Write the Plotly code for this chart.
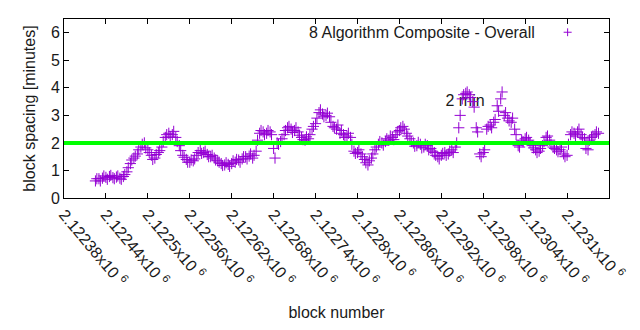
import plotly.graph_objects as go

# ---- data ----
block_start = 2122425
block_step = 5
# values on the blocks block_start + 5*i
spacing_min = [
    0.62, 0.70, 0.72, 0.75, 0.78, 0.74, 0.76, 0.72, 0.78, 0.95,
    1.25, 1.45, 1.60, 1.85, 2.00, 1.75, 1.55, 1.45, 1.65, 1.85,
    2.20, 2.35, 2.30, 2.20, 1.90, 1.55, 1.40, 1.30, 1.35, 1.55,
    1.72, 1.65, 1.58, 1.50, 1.45, 1.35, 1.25, 1.20, 1.22, 1.25,
    1.30, 1.38, 1.42, 1.50, 1.52, 1.45, 1.70, 2.35, 2.40, 2.35,
    2.40, 1.80, 2.00, 2.05, 2.30, 2.55, 2.50, 2.45, 2.40, 2.20,
    2.10, 2.15, 2.50, 2.70, 3.10, 3.05, 3.00, 2.95, 2.60, 2.50,
    2.35, 2.30, 2.25, 2.20, 1.70, 1.65, 1.60, 1.40, 1.20, 1.45,
    1.75, 1.95, 2.00, 2.05, 2.10, 2.20, 2.30, 2.45, 2.60, 2.35,
    2.15, 2.00, 1.90, 1.95, 1.85, 1.90, 1.80, 1.65, 1.50, 1.55,
    1.65, 1.60, 1.75, 1.85, 2.55, 3.60, 3.80, 3.75, 3.50, 2.55,
    1.60, 1.65, 2.50, 2.65, 2.75, 3.35, 3.60, 3.00, 2.90, 2.75,
    2.50, 1.90, 2.10, 2.15, 2.10, 1.90, 1.75, 1.70, 1.90, 2.20,
    2.10, 1.85, 1.75, 1.75, 1.60, 1.55, 2.30, 2.35, 2.40, 2.30,
    2.15, 1.75, 2.20, 2.30, 2.35,
]
# values on the in-between blocks block_start + 2 + 5*i
spacing_min_mid = [
    0.70, 0.62, 0.80, 0.68, 0.82, 0.70, 0.80, 0.68, 0.85, 1.10,
    1.38, 1.52, 1.75, 1.95, 1.82, 1.65, 1.40, 1.58, 1.72, 2.05,
    2.30, 2.22, 2.42, 2.05, 1.72, 1.48, 1.30, 1.38, 1.42, 1.65,
    1.62, 1.70, 1.50, 1.55, 1.38, 1.30, 1.18, 1.28, 1.15, 1.35,
    1.40, 1.30, 1.50, 1.42, 1.60, 1.55, 2.10, 2.45, 2.30, 2.45,
    2.30, 1.45, 1.95, 2.15, 2.45, 2.60, 2.38, 2.55, 2.28, 2.12,
    2.22, 2.30, 2.60, 2.90, 3.20, 2.95, 3.08, 2.75, 2.55, 2.65,
    2.45, 2.20, 2.35, 1.95, 1.62, 1.75, 1.50, 1.28, 1.35, 1.60,
    1.85, 2.05, 1.92, 2.15, 2.25, 2.12, 2.40, 2.55, 2.50, 2.25,
    2.05, 1.88, 2.02, 1.82, 1.95, 1.75, 1.70, 1.55, 1.42, 1.62,
    1.55, 1.70, 1.65, 2.00, 3.00, 3.75, 3.85, 3.65, 3.30, 2.40,
    1.50, 1.75, 2.60, 2.55, 2.85, 3.15, 3.85, 3.10, 2.80, 2.90,
    2.30, 1.85, 2.05, 2.20, 2.00, 1.82, 1.65, 1.80, 2.05, 2.25,
    1.95, 1.80, 1.68, 1.85, 1.50, 1.95, 2.40, 2.25, 2.50, 2.20,
    1.80, 2.10, 2.25, 2.40,
]
blocks = [block_start + block_step * i for i in range(len(spacing_min))]
blocks_mid = [block_start + 2 + block_step * i for i in range(len(spacing_min_mid))]

tick_blocks = [2122380, 2122440, 2122500, 2122560, 2122620, 2122680, 2122740,
               2122800, 2122860, 2122920, 2122980, 2123040, 2123100, 2123160]
tick_labels = ["2.12238", "2.12244", "2.1225", "2.12256", "2.12262", "2.12268",
               "2.12274", "2.1228", "2.12286", "2.12292", "2.12298", "2.12304",
               "2.1231", "2.12316"]
target_minutes = 2
series_name = "8 Algorithm Composite - Overall"
label_text = "2 min"
label_pos = (2122926, 3.47)

PURPLE = "#9400D3"
FONT = "Liberation Sans"
TXT = "#1a1a1a"

fig = go.Figure()

# label drawn behind the points (as in the reference)
fig.add_trace(go.Scatter(
    x=[label_pos[0]], y=[label_pos[1]], mode="text", text=[label_text],
    textposition="middle right", textfont=dict(family=FONT, size=16, color=TXT),
    showlegend=False, hoverinfo="skip"))

fig.add_trace(go.Scatter(
    x=blocks + blocks_mid, y=spacing_min + spacing_min_mid, mode="markers", name=series_name,
    marker=dict(symbol="cross-thin", size=8, line=dict(color=PURPLE, width=1), color=PURPLE),
    showlegend=False))

shapes = [
    dict(type="line", xref="paper", yref="y", x0=0, x1=1, y0=target_minutes, y1=target_minutes,
         line=dict(color="#00ff00", width=4), layer="above"),
    # legend sample "+"
    dict(type="line", xref="paper", yref="paper", x0=0.9168, x1=0.9315, y0=0.926, y1=0.926,
         line=dict(color=PURPLE, width=1)),
    dict(type="line", xref="paper", yref="paper", x0=0.9241, x1=0.9241, y0=0.904, y1=0.948,
         line=dict(color=PURPLE, width=1)),
]

axis_common = dict(showline=True, linecolor="black", linewidth=1, mirror="ticks",
                   ticks="inside", ticklen=5, tickcolor="black", showgrid=False,
                   zeroline=False, tickfont=dict(family=FONT, size=16, color=TXT))

fig.update_layout(
    width=640, height=330,
    margin=dict(l=64, r=31, t=19, b=132),
    paper_bgcolor="white", plot_bgcolor="white",
    font=dict(family=FONT, size=16, color=TXT),
    shapes=shapes,
    annotations=[dict(text=series_name, xref="paper", yref="paper", x=0.868, y=0.926,
                      xanchor="right", yanchor="middle", showarrow=False,
                      font=dict(family=FONT, size=16, color=TXT))],
    xaxis=dict(range=[tick_blocks[0], tick_blocks[-1]], tickvals=tick_blocks,
               ticktext=[t + "x10 <sup>6</sup>" for t in tick_labels], tickangle=50,
               title=dict(text="block number", standoff=18,
                          font=dict(family=FONT, size=16, color=TXT)),
               **axis_common),
    yaxis=dict(range=[0, 6.5], tickvals=[0, 1, 2, 3, 4, 5, 6],
               title=dict(text="block spacing [minutes]", standoff=11,
                          font=dict(family=FONT, size=16, color=TXT)),
               **axis_common),
)

fig.write_html("out.html")
